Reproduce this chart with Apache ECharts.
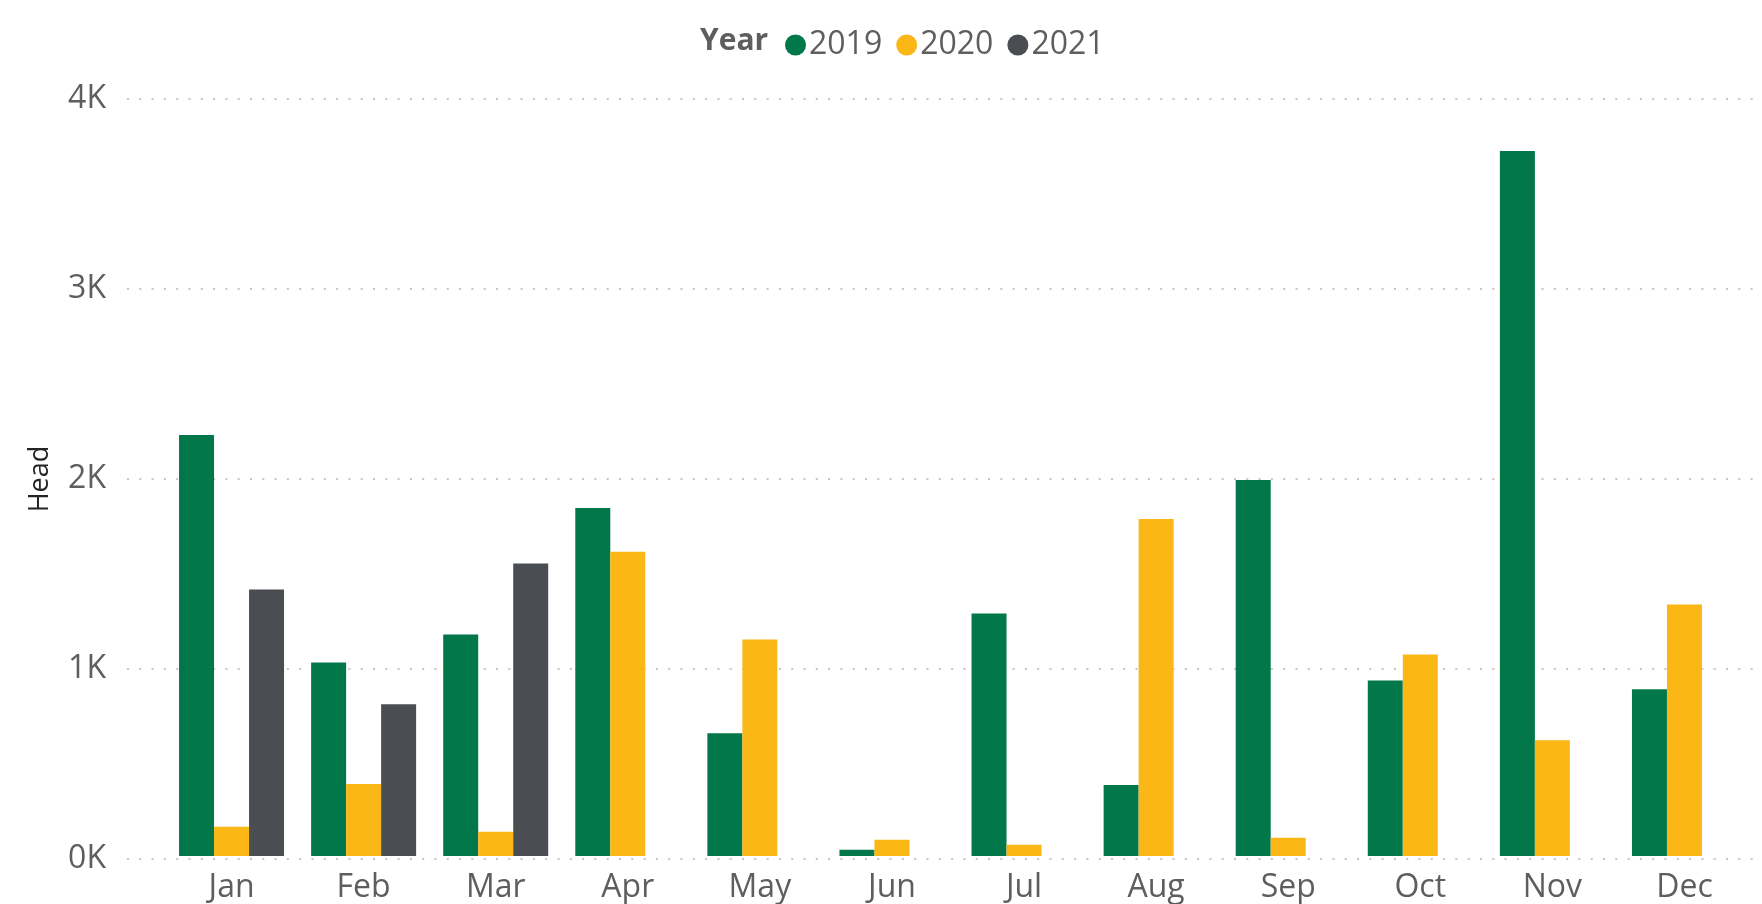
<!DOCTYPE html>
<html>
<head>
<meta charset="utf-8">
<title>Head by Month and Year</title>
<script src="https://cdn.jsdelivr.net/npm/echarts@6/dist/echarts.min.js"></script>
<style>
  html, body { margin: 0; padding: 0; background: #fff; }
  #chart { width: 1762px; height: 904px; }
</style>
</head>
<body>
<div id="chart"></div>
<script>
  // months on the x axis
  const months = ['Jan', 'Feb', 'Mar', 'Apr', 'May', 'Jun', 'Jul', 'Aug', 'Sep', 'Oct', 'Nov', 'Dec']
  const years = ['2019', '2020', '2021']

  // head count per month
  const head2019 = [2224, 1023, 1171, 1839, 649, 33, 1281, 375, 1987, 928, 3725, 881]
  const head2020 = [154, 381, 128, 1608, 1144, 86, 60, 1781, 96, 1065, 612, 1329]
  const head2021 = [1408, 802, 1545, null, null, null, null, null, null, null, null, null]

  const yearColors = ['#01774A', '#FBB716', '#4A4D51']
  const font = '"Open Sans", "Noto Sans", sans-serif'

  const chart = echarts.init(document.getElementById('chart'))

  const seriesData = [head2019, head2020, head2021]

  chart.setOption({
    animation: false,
    title: {
      text: 'Year',
      left: 695,
      top: 21,
      textStyle: { fontFamily: font, fontSize: 30, fontWeight: 'bold', color: '#605E5C' }
    },
    legend: {
      data: years,
      left: 780,
      top: 24,
      icon: 'circle',
      itemWidth: 21,
      itemHeight: 21,
      itemGap: 14,
      textStyle: { fontFamily: font, fontSize: 32, color: '#605E5C', padding: [0, 0, 0, -2] }
    },
    grid: [
      // wide grid only for the value axis and its dotted lines
      { left: 127, right: 0, top: 99, bottom: 45 },
      // the bars
      { left: 165.5, right: 11.5, top: 99, bottom: 45 }
    ],
    xAxis: [
      { gridIndex: 0, type: 'value', show: false },
      {
        gridIndex: 1,
        type: 'category',
        data: months,
        axisLine: { show: false },
        axisTick: { show: false },
        axisLabel: { fontFamily: font, fontSize: 32, color: '#605E5C', margin: 16 }
      }
    ],
    yAxis: [
      {
        gridIndex: 0,
        type: 'value',
        min: 0,
        max: 4000,
        interval: 1000,
        name: 'Head',
        nameLocation: 'middle',
        nameGap: 73,
        nameTextStyle: { fontFamily: font, fontSize: 27, color: '#252423' },
        axisLine: { show: false },
        axisTick: { show: false },
        axisLabel: {
          fontFamily: font,
          fontSize: 32,
          color: '#605E5C',
          margin: 21,
          formatter: v => (v / 1000) + 'K'
        },
        splitLine: { lineStyle: { color: '#C8C6C4', width: 2, type: [2, 10.3] } }
      },
      {
        gridIndex: 1,
        type: 'value',
        min: 0,
        max: 4000,
        show: false,
        splitLine: { show: false }
      }
    ],
    series: years.map((y, i) => ({
      name: y,
      type: 'bar',
      xAxisIndex: 1,
      yAxisIndex: 1,
      barWidth: 35,
      barGap: '0%',
      itemStyle: { color: yearColors[i] },
      data: seriesData[i]
    }))
  })
</script>
</body>
</html>
